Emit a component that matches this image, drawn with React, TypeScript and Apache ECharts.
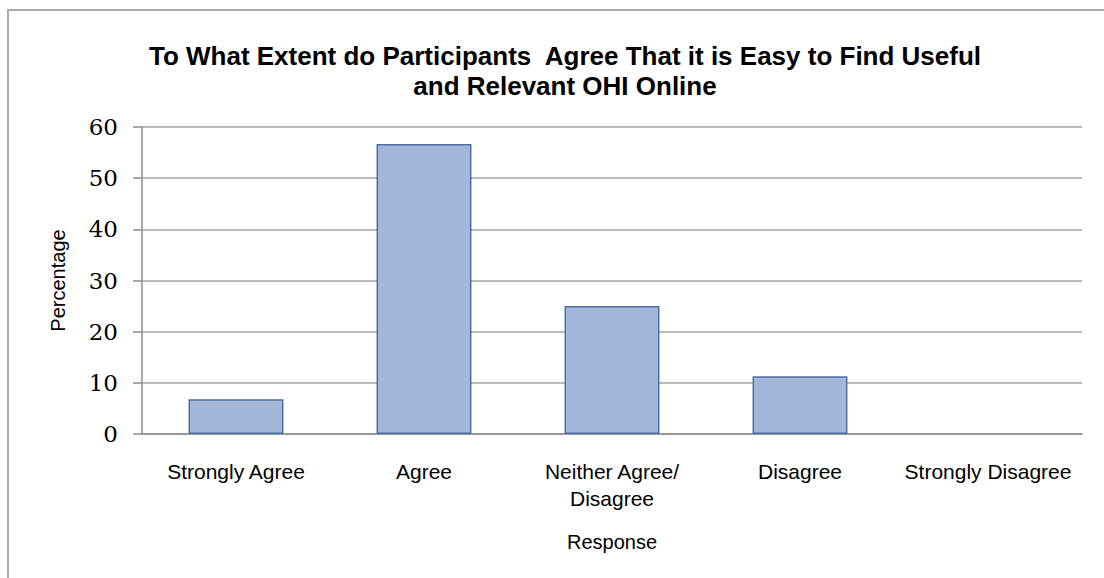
import React, { useEffect, useRef } from "react";
import * as echarts from "echarts";

const categories = ["Strongly Agree", "Agree", "Neither Agree/\nDisagree", "Disagree", "Strongly Disagree"];
const percentages = [6.8, 56.7, 25.0, 11.3, 0];
const titleLines = ["To What Extent do Participants  Agree That it is Easy to Find Useful", "and Relevant OHI Online"];
const yAxisName = "Percentage";
const xAxisName = "Response";

export default function App() {
  const ref = useRef<HTMLDivElement>(null);
  useEffect(() => {
    if (!ref.current) return;
    const chart = echarts.init(ref.current, undefined, { renderer: "svg" });
    chart.setOption({
      animation: false,
      backgroundColor: "#ffffff",
      title: {
        text: titleLines.join("\n"),
        left: 560,
        top: 36,
        textAlign: "center",
        textStyle: {
          fontFamily: "Liberation Sans, Arial, sans-serif",
          fontWeight: "bold",
          fontSize: 26,
          lineHeight: 30,
          color: "#000",
        },
      },
      graphic: [
        {
          type: "rect",
          shape: { x: 8, y: 10, width: 1200, height: 700 },
          style: { fill: "none", stroke: "#ababab", lineWidth: 2 },
          silent: true,
        },
      ],
      grid: { left: 142, right: 22, top: 127, bottom: 144 },
      xAxis: {
        type: "category",
        data: categories,
        name: xAxisName,
        nameLocation: "middle",
        nameGap: 98,
        nameTextStyle: { fontFamily: "Liberation Sans, Arial, sans-serif", fontSize: 20, color: "#000" },
        axisLine: { lineStyle: { color: "#8c8c8c", width: 1.5 } },
        axisTick: { show: false },
        axisLabel: {
          interval: 0,
          margin: 24,
          fontFamily: "Liberation Sans, Arial, sans-serif",
          fontSize: 21,
          lineHeight: 27,
          color: "#000",
        },
      },
      yAxis: {
        type: "value",
        min: 0,
        max: 60,
        interval: 10,
        name: yAxisName,
        nameLocation: "middle",
        nameRotate: 90,
        nameGap: 74,
        nameTextStyle: { fontFamily: "Liberation Sans, Arial, sans-serif", fontSize: 20, color: "#000" },
        axisLine: { show: true, lineStyle: { color: "#8c8c8c", width: 1.5 } },
        axisTick: { show: true, length: 9, lineStyle: { color: "#8c8c8c", width: 1.5 } },
        axisLabel: {
          margin: 24,
          fontFamily: "DejaVu Serif, serif",
          fontSize: 23,
          color: "#000",
        },
        splitLine: { lineStyle: { color: "#a6a6a6", width: 1.5 } },
      },
      series: [
        {
          type: "bar",
          data: percentages.map((v) => (v === 0 ? { value: v, itemStyle: { borderWidth: 0 } } : v)),
          barWidth: "50.5%",
          itemStyle: { color: "#a4b7da", borderColor: "#4d70a4", borderWidth: 1.5 },
        },
      ],
    });
    return () => chart.dispose();
  }, []);
  return <div ref={ref} style={{ position: "fixed", left: 0, top: 0, width: 1104, height: 578 }} />;
}
